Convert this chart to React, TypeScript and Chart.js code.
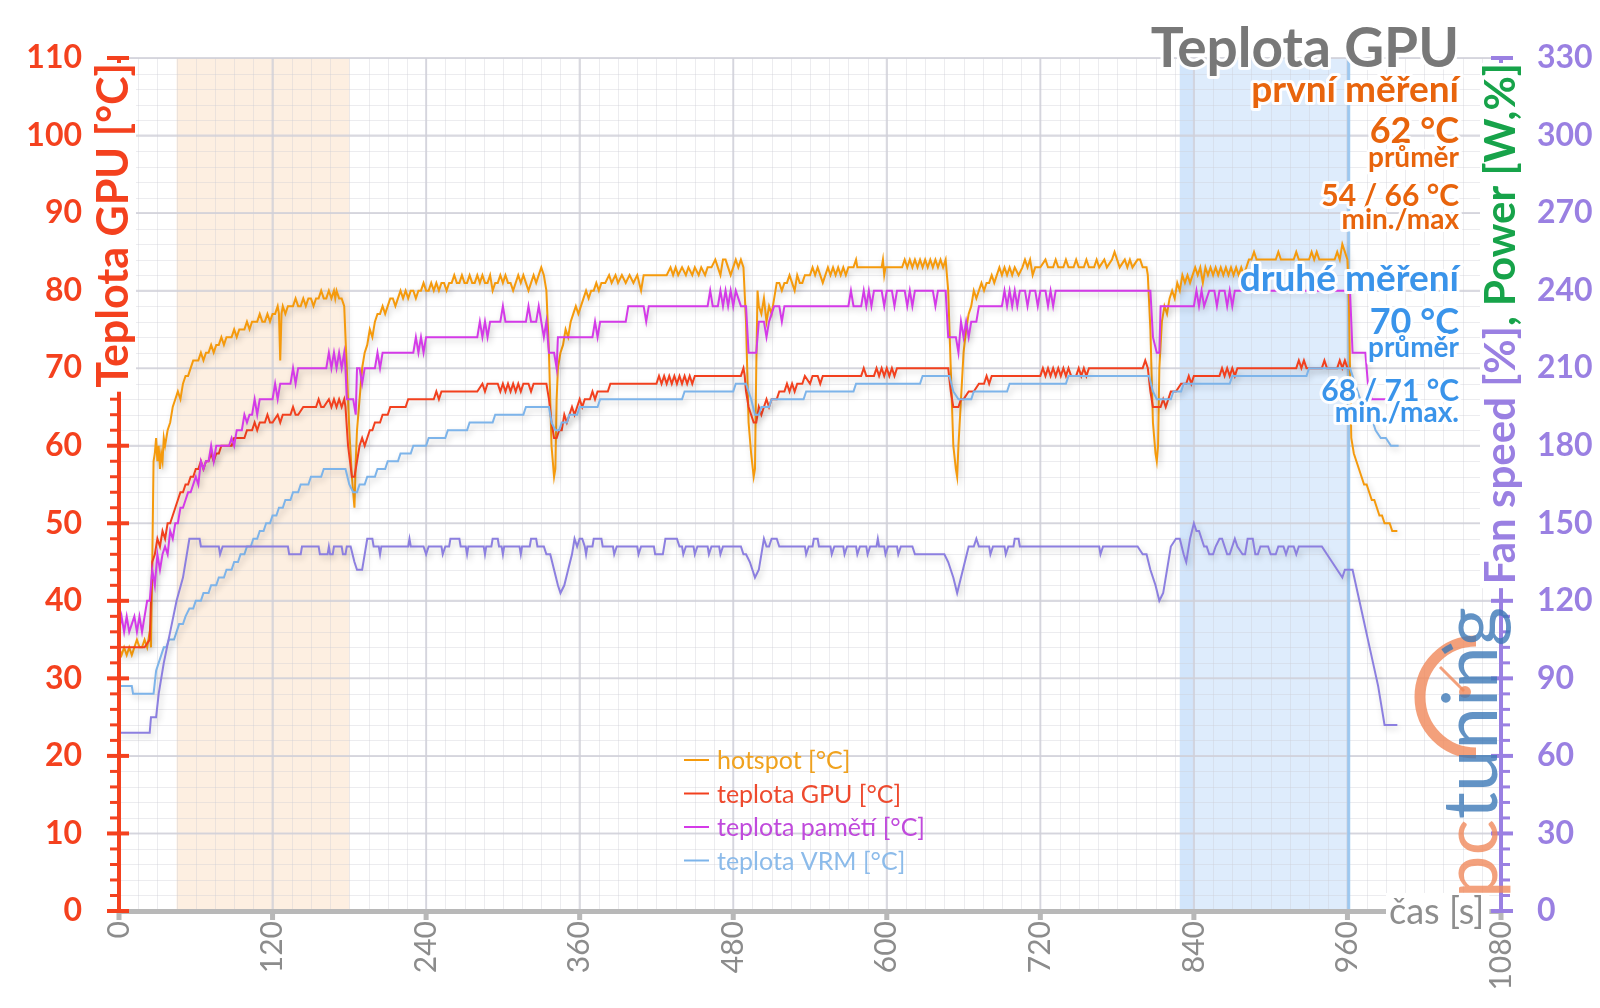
import React, { useEffect, useRef } from "react";
import { Chart, registerables } from "chart.js";

Chart.register(...registerables);

// ---------- data ----------
const xTickStep = 120;
const xMax = 1080;
const yMax = 110;
const y1Max = 330;
const firstRun = [45, 180];
const secondRun = [829, 961];

const hotspot: number[][] = [
  [0,34],[2,33],[4,34],[6,33],[8,34],[10,33],[12,34],[14,35],[16,34],[18,34],[20,35],[22,34],[24,36],[25,34],[26,45],[27,58],[28,59],[29,61],[30,58],[31,60],[32,57],[33,59],[34,58],[35,61],[36,60],[38,62],[40,63],[42,65],[44,66],[46,67],[48,66],[50,68],[52,69],[54,69],[56,70],[58,71],[60,71],
  [62,71],[64,72],[66,71],[68,72],[70,72],[72,73],[74,72],[76,73],[78,73],[80,74],[82,73],[84,74],[86,74],[88,74],[90,75],[92,74],[94,75],[96,75],[98,75],[100,76],[102,75],[104,76],[106,76],[108,76],[110,77],[112,76],[114,76],[116,77],[118,76],[120,77],[122,77],[124,78],[125,77],[126,71],[127,77],[128,78],[130,77],[132,78],[134,78],[136,78],[138,79],[140,78],[142,78],[144,79],[146,78],[148,79],[150,79],[152,78],[154,79],[156,79],[158,80],[160,79],[162,79],[164,80],[166,79],[168,80],[169,79],[170,80],[172,79],[174,79],[176,78],
  [178,70],[180,62],[182,56],[184,52],[185,58],[186,62],[188,66],[190,70],[192,72],[194,73],[196,75],[198,74],[200,76],[202,77],[204,77],[206,78],[208,77],[210,78],[212,79],[214,79],[216,78],[218,79],[220,80],[222,79],[224,80],[226,79],[228,80],[230,80],[232,79],[234,80],[236,80],[238,81],[240,80],[242,80],[244,81],[246,80],[248,81],[250,80],[252,81],[254,81],[256,80],[258,81],[260,81],[262,82],[264,81],[266,81],[268,82],[270,81],[272,81],[274,82],[276,81],[278,81],[280,82],[282,81],[284,82],[286,81],[288,81],[290,82],[292,80],[294,81],[296,81],[298,82],[300,81],[302,82],[304,81],[306,81],[308,80],[310,81],[312,82],[314,81],[316,82],[318,81],[320,80],[322,81],[324,82],[326,81],[328,82],[330,83],[332,82],[334,80],
  [336,72],[338,60],[340,56],[341,57],[342,66],[343,70],[345,72],[347,73],[349,75],[351,74],[353,76],[355,77],[357,78],[359,77],[361,78],[363,79],[365,80],[367,79],[369,80],[371,80],[373,81],[375,80],[377,81],[380,81],[383,82],[385,81],[388,82],[390,81],[393,82],[396,81],[399,82],[402,81],[405,82],[408,80],[410,82],[413,82],[416,82],[419,82],[422,82],[425,82],[428,82],[431,83],[433,82],[435,83],[437,82],[440,83],[443,82],[445,83],[448,82],[450,83],[453,82],[455,83],[458,82],[460,83],[463,83],[466,84],[468,83],[470,82],[472,84],[474,84],[476,83],[478,82],[480,83],[482,84],[484,83],[486,84],[488,83],
  [490,76],[492,63],[494,59],[496,56],[497,57],[498,70],[499,80],[500,78],[502,77],[504,79],[506,76],[508,78],[510,77],[512,79],[514,81],[516,81],[518,80],[520,81],[522,81],[524,82],[526,81],[528,80],[530,82],[532,81],[534,81],[536,82],[538,82],[540,82],[542,83],[544,82],[546,83],[548,82],[550,81],[552,82],[554,83],[556,82],[558,83],[560,82],[562,83],[564,82],[566,83],[568,82],[570,83],[574,83],[576,84],[577,83],[596,83],[597,84],[598,82],[599,83],[612,83],[614,84],[616,83],[618,84],[620,83],[622,84],[624,83],[626,84],[628,83],[630,84],[632,83],[634,84],[636,83],[638,84],[640,83],[642,84],[644,83],[646,84],[647,82],
  [648,80],[650,70],[652,60],[654,57],[655,56],[656,60],[658,66],[660,72],[662,75],[664,77],[666,78],[668,80],[670,79],[672,80],[674,81],[676,80],[678,81],[680,81],[682,82],[684,81],[686,82],[688,83],[690,82],[692,83],[694,82],[696,83],[698,82],[700,83],[703,82],[706,83],[708,84],[710,83],[712,84],[714,82],[716,83],[720,83],[724,84],[726,83],[730,83],[732,84],[734,83],[738,83],[740,84],[742,83],[746,83],[748,84],[750,83],[754,83],[756,84],[758,83],[762,83],[764,84],[766,83],[770,84],[772,83],[776,84],[778,85],[780,84],[782,83],[786,84],[788,83],[790,84],[792,83],[796,84],[798,84],[800,83],[803,83],[804,82],
  [806,75],[808,63],[810,59],[811,58],[812,60],[813,70],[815,76],[817,78],[819,77],[821,79],[823,80],[825,79],[827,81],[829,80],[831,82],[833,81],[835,82],[837,81],[839,82],[841,83],[843,82],[845,83],[847,81],[849,83],[851,82],[853,83],[855,82],[857,83],[859,82],[861,83],[863,82],[865,83],[867,82],[869,83],[871,82],[873,83],[875,82],[877,83],[879,82],[881,83],[883,84],[885,84],[887,85],[889,84],[904,84],[906,85],[908,84],[918,84],[920,85],[922,84],[930,84],[932,85],[934,84],[936,85],[938,84],[950,84],[952,85],[954,84],[956,86],[958,85],[960,84],
  [961,80],[962,70],[963,61],[965,59],[967,58],[969,57],[971,56],[973,55],[975,55],[977,54],[979,53],[981,53],[983,52],[985,51],[987,51],[989,50],[991,50],[993,50],[995,49],[997,49],[999,49]
];

const gpuTemp: number[][] = [
  [0,34],[10,34],[20,34],[24,35],[26,45],[28,46],[30,48],[32,47],[34,49],[36,48],[38,50],[40,50],[42,51],[44,52],[46,53],[48,54],[50,54],[52,55],[54,55],[56,56],[58,56],[60,57],[62,57],[64,58],[66,57],[68,58],[70,58],[72,59],[74,58],[76,59],[78,59],[80,60],[84,60],[88,60],[90,61],[94,61],[98,61],[100,62],[104,62],[106,63],[108,62],[110,63],[114,63],[116,64],[118,63],[120,63],[124,64],[126,63],[128,64],[134,64],[136,65],[138,64],[140,64],[144,65],[150,65],[154,65],[156,66],[158,65],[160,65],[164,66],[166,65],[168,66],[170,65],[172,66],[174,65],[176,66],[177,65],
  [179,60],[182,56],[184,56],[186,58],[188,60],[190,61],[192,60],[194,61],[196,62],[198,62],[200,63],[204,63],[206,64],[210,64],[212,65],[224,65],[226,66],[246,66],[248,67],[250,66],[252,67],[280,67],[284,68],[286,67],[288,68],[296,68],[298,67],[300,68],[302,67],[304,68],[306,67],[308,68],[310,67],[312,68],[314,67],[316,68],[320,68],[322,67],[324,68],[334,68],
  [336,66],[338,63],[340,61],[342,61],[344,62],[346,62],[348,64],[350,63],[352,64],[354,65],[356,64],[358,65],[360,66],[362,65],[364,66],[368,66],[370,67],[372,66],[374,67],[382,67],[384,68],[420,68],[422,69],[424,68],[426,69],[428,68],[430,69],[432,68],[434,69],[436,68],[438,69],[440,68],[442,69],[444,68],[446,69],[448,68],[450,69],[486,69],[488,70],[489,69],
  [490,67],[492,65],[494,64],[496,63],[498,63],[500,65],[502,64],[504,65],[506,66],[508,65],[510,66],[514,66],[516,67],[520,67],[522,68],[524,67],[526,68],[528,67],[530,68],[534,68],[536,69],[540,68],[542,69],[546,69],[548,68],[550,69],[580,69],[582,70],[584,69],[590,69],[592,70],[594,69],[596,70],[598,69],[600,70],[602,69],[604,70],[606,69],[608,70],[648,70],
  [650,67],[652,65],[654,65],[656,65],[658,66],[660,66],[664,67],[668,67],[672,68],[676,68],[678,69],[680,68],[682,69],[690,69],[720,69],[722,70],[724,69],[726,70],[728,69],[730,70],[732,69],[734,70],[736,69],[738,70],[740,69],[742,70],[744,69],[748,69],[750,70],[752,69],[754,70],[756,69],[758,70],[800,70],[802,71],[804,70],
  [806,67],[808,65],[810,65],[812,65],[814,65],[816,66],[818,65],[820,66],[822,67],[826,67],[830,68],[834,68],[836,69],[838,68],[840,69],[860,69],[862,70],[864,69],[866,70],[868,69],[870,70],[872,69],[874,70],[920,70],[922,71],[924,70],[926,71],[928,70],[940,70],[942,71],[944,70],[952,70],[954,71],[956,70],[958,71],[960,70],[962,70]
];

const memTemp: number[][] = [
  [0,36],[2,38],[4,36],[6,38],[8,36],[10,37],[12,38],[14,36],[16,38],[18,36],[20,38],[22,40],[24,40],[26,44],[28,42],[30,46],[32,44],[34,46],[36,47],[38,46],[40,49],[42,48],[44,50],[46,50],[48,52],[50,52],[52,53],[54,54],[56,54],[58,55],[60,56],[62,55],[64,58],[66,57],[68,58],[70,58],[72,60],[74,58],[76,60],[78,60],[82,60],[86,60],[88,61],[90,60],[92,62],[96,62],[98,64],[100,63],[102,64],[104,64],[106,66],[108,64],[110,66],[118,66],[120,66],[122,68],[124,66],[126,68],[134,68],[136,70],[138,68],[140,70],[162,70],[164,72],[166,70],[168,72],[170,70],[172,72],[174,70],[176,72],[177,70],
  [178,66],[183,66],[185,64],[186,70],[188,70],[190,68],[192,70],[200,70],[202,72],[204,70],[206,72],[230,72],[232,74],[234,72],[236,74],[238,72],[240,74],[280,74],[282,76],[284,74],[286,76],[288,74],[290,76],[298,76],[300,78],[302,76],[318,76],[320,78],[322,76],[326,76],[328,78],[330,76],[332,74],[334,76],
  [336,72],[340,72],[342,70],[343,74],[346,74],[370,74],[372,76],[374,74],[376,76],[396,76],[398,78],[410,78],[412,76],[414,78],[460,78],[462,80],[464,78],[468,78],[470,80],[472,78],[474,80],[476,78],[478,80],[480,78],[482,80],[486,78],[490,78],
  [492,72],[498,72],[500,76],[504,76],[506,74],[508,76],[510,77],[512,78],[516,78],[518,76],[520,78],[570,78],[572,80],[574,78],[580,78],[582,80],[584,78],[586,80],[588,78],[590,80],[596,80],[598,78],[600,80],[604,80],[606,78],[608,80],[614,80],[616,78],[618,80],[620,78],[622,80],[636,80],[638,78],[640,80],[646,80],
  [648,74],[654,74],[656,72],[658,76],[660,74],[662,76],[664,74],[666,76],[670,76],[672,78],[690,78],[692,80],[694,78],[696,80],[698,78],[700,80],[702,78],[704,80],[708,80],[710,78],[712,80],[716,80],[718,78],[720,80],[724,80],[726,78],[728,80],[730,78],[732,80],[806,80],
  [808,74],[811,72],[813,72],[814,78],[840,78],[842,80],[844,78],[846,80],[848,78],[852,80],[856,80],[858,78],[860,80],[864,80],[866,78],[868,80],[870,78],[872,80],[962,80],[963,76],[964,72],[974,72],[976,68],[979,66],[990,66]
];

const vrmTemp: number[][] = [
  [0,29],[10,29],[11,28],[27,28],[29,31],[31,32],[33,33],[35,34],[37,34],[39,35],[43,35],[45,36],[47,37],[50,37],[52,38],[55,39],[58,39],[60,40],[64,40],[66,41],[70,41],[72,42],[76,42],[78,43],[82,43],[84,44],[88,44],[90,45],[93,45],[95,46],[98,46],[100,47],[103,47],[105,48],[108,48],[110,49],[113,49],[115,50],[118,50],[120,51],[123,51],[125,52],[128,52],[130,53],[134,53],[136,54],[140,54],[142,55],[148,55],[150,56],[158,56],[160,57],[177,57],
  [180,55],[183,54],[186,54],[188,55],[192,55],[194,56],[200,56],[202,57],[208,57],[210,58],[218,58],[220,59],[228,59],[230,60],[240,60],[242,61],[255,61],[257,62],[272,62],[274,63],[292,63],[294,64],[316,64],[318,65],[336,65],
  [338,63],[341,62],[344,62],[346,63],[350,63],[352,64],[358,64],[360,65],[374,65],[376,66],[440,66],[442,67],[480,67],[482,68],[490,68],
  [494,66],[497,64],[500,64],[502,65],[508,65],[510,66],[535,66],[537,67],[574,67],[576,68],[626,68],[628,69],[649,69],
  [652,67],[656,66],[666,66],[668,67],[694,67],[696,68],[740,68],[742,69],[805,69],
  [808,67],[811,66],[822,66],[824,67],[830,67],[832,68],[868,68],[870,69],[928,69],[930,70],[962,70],
  [964,69],[966,68],[970,66],[974,65],[978,64],[982,62],[986,61],[990,61],[994,60],[1000,60]
];

const fanSpeed: number[][] = [
  [0,23],[24,23],[25,25],[29,25],[31,28],[35,32],[40,36],[45,40],[50,43],[53,46],[55,48],[60,48],[63,48],[64,47],[78,47],[79,46],[81,47],[132,47],[133,46],[142,46],[143,47],[156,47],[157,46],[163,46],[164,47],[165,46],[167,46],[168,47],[174,47],[175,46],[177,46],[178,47],[181,47],[184,45],[186,44],[190,44],[192,46],[194,48],[198,48],[199,47],[203,47],[204,46],[205,47],
  [226,47],[227,48],[228,47],[238,47],[240,46],[242,47],[252,47],[253,46],[255,47],[258,47],[259,48],[266,48],[267,47],[271,47],[272,46],[273,47],[285,47],[286,46],[287,47],[291,47],[292,48],[296,48],[297,47],[299,47],[300,46],[301,47],[313,47],[314,46],[315,47],[321,47],[322,48],[326,48],[327,47],[332,47],[334,46],[337,46],[340,44],[343,42],[345,41],[348,42],[351,44],[354,46],[356,48],[358,47],[360,48],[362,48],[364,47],[365,46],[366,47],[370,47],[371,48],[377,48],[378,47],[386,47],[387,46],[389,47],[405,47],[406,46],[408,47],[418,47],[419,46],[425,46],[427,48],[436,48],[438,47],[440,47],[441,46],[443,47],[449,47],[450,46],[452,47],[460,47],[461,46],[463,47],[469,47],[470,46],[472,47],[486,47],[488,46],[490,46],[493,45],[497,43],[500,44],[502,46],[504,48],[506,47],[508,47],[510,48],[514,48],[516,47],
  [536,47],[537,46],[539,47],[542,47],[543,48],[546,48],[547,47],[556,47],[557,46],[559,47],[566,47],[567,46],[569,47],[576,47],[577,46],[579,47],[584,47],[585,46],[587,47],[592,47],[593,48],[594,47],[598,47],[599,46],[601,47],[608,47],[609,46],[611,47],[620,47],[622,46],[645,46],[648,45],[652,43],[655,41],[658,43],[661,45],[664,47],[668,47],[670,48],[672,47],[680,47],[681,46],[683,47],[692,47],[693,46],[695,47],[699,47],[700,48],[703,48],[704,47],[766,47],[767,46],[769,47],[796,47],[800,46],[803,46],[806,44],[810,42],[813,40],[816,41],[819,44],[822,47],[826,48],[829,48],[832,46],[834,45],[837,48],[840,50],[842,49],[844,49],[846,48],[848,47],[850,47],[852,46],[855,46],[857,47],[860,48],[862,48],[864,47],[866,46],[868,46],[870,47],[872,48],[874,47],[878,46],[880,46],[882,48],[886,48],[888,46],[890,46],[892,47],[898,47],[900,46],[904,46],[906,47],[910,47],[912,46],[914,47],[918,47],[920,46],[922,47],[940,47],[944,46],[948,45],[952,44],[956,43],[958,44],[964,44],[968,41],[972,38],[976,35],[980,32],[984,29],[987,26],[989,24],[999,24]
];

const legendLabels = ["hotspot [°C]", "teplota GPU [°C]", "teplota pamětí [°C]", "teplota VRM [°C]"];
const chartTitle = "Teplota GPU";
const firstLines = ["první měření", "62 °C", "průměr", "54 / 66 °C", "min./max"];
const secondLines = ["druhé měření", "70 °C", "průměr", "68 / 71 °C", "min./max."];
const leftTitle = "Teplota GPU [°C]";
const rightTitleA = "Fan speed [%]";
const rightTitleB = ", Power [W,%]";
const xTitle = "čas [s]";

// ---------- styles ----------
const FONT = "Lato, 'Open Sans', sans-serif";
const RED = "#f4411e";
const PURPLE = "#9a80e2";
const GREEN = "#17a34a";
const GREY = "#8c8c8c";
const ORANGE_TXT = "#e8640c";
const BLUE_TXT = "#3a94ea";
const C_HOT = "#f59a0c";
const C_GPU = "#f2401e";
const C_MEM = "#d43ae8";
const C_VRM = "#7db4ea";
const C_FAN = "#8c7fe0";
const legendTextColors = ["#f0a21e", "#ee4a2e", "#c04adc", "#8cbbea"];
const legendLineColors = [C_HOT, C_GPU, C_MEM, C_VRM];

const toXY = (arr: number[][]) => arr.map(([x, y]) => ({ x, y }));

const haloText = (ctx: CanvasRenderingContext2D, text: string, x: number, y: number, color: string, halo = 6) => {
  ctx.lineJoin = "round";
  ctx.strokeStyle = "rgba(255,255,255,0.95)";
  ctx.lineWidth = halo;
  ctx.strokeText(text, x, y);
  ctx.fillStyle = color;
  ctx.fillText(text, x, y);
};

const decorPlugin = {
  id: "decor",
  beforeDraw(chart: any) {
    const { ctx, chartArea, scales } = chart;
    const { left, right, top, bottom } = chartArea;
    const x = scales.x, y = scales.y;
    ctx.save();
    ctx.fillStyle = "#ffffff";
    ctx.fillRect(0, 0, chart.width, chart.height);
    const a0 = x.getPixelForValue(firstRun[0]), a1 = x.getPixelForValue(firstRun[1]);
    ctx.fillStyle = "rgba(252,226,200,0.55)";
    ctx.fillRect(a0, top, a1 - a0, bottom - top);
    const b0 = x.getPixelForValue(secondRun[0]), b1 = x.getPixelForValue(secondRun[1]);
    ctx.fillStyle = "rgba(200,224,250,0.6)";
    ctx.fillRect(b0, top, b1 - b0, bottom - top);
    ctx.fillStyle = "rgba(190,218,248,0.35)";
    ctx.fillRect(b0, top, 14, bottom - top);
    // minor grid
    ctx.strokeStyle = "rgba(205,205,212,0.38)";
    ctx.lineWidth = 1;
    for (let t = 0; t <= xMax; t += 15) {
      const px = Math.round(x.getPixelForValue(t)) + 0.5;
      ctx.beginPath(); ctx.moveTo(px, top); ctx.lineTo(px, bottom); ctx.stroke();
    }
    for (let v = 0; v <= yMax; v += 2) {
      const py = Math.round(y.getPixelForValue(v)) + 0.5;
      ctx.beginPath(); ctx.moveTo(left, py); ctx.lineTo(right, py); ctx.stroke();
    }
    // major grid
    ctx.strokeStyle = "rgba(208,208,216,0.8)";
    ctx.lineWidth = 2;
    for (let t = 0; t <= xMax; t += xTickStep) {
      const px = x.getPixelForValue(t);
      ctx.beginPath(); ctx.moveTo(px, top); ctx.lineTo(px, bottom); ctx.stroke();
    }
    for (let v = 0; v <= yMax; v += 10) {
      const py = y.getPixelForValue(v);
      ctx.beginPath(); ctx.moveTo(left, py); ctx.lineTo(right, py); ctx.stroke();
    }
    ctx.strokeStyle = "rgba(150,196,240,0.9)";
    ctx.lineWidth = 3;
    ctx.beginPath(); ctx.moveTo(b1, top); ctx.lineTo(b1, bottom); ctx.stroke();
    ctx.restore();
  },
  beforeDatasetsDraw(chart: any) {
    const ctx = chart.ctx;
    ctx.save();
    ctx.shadowColor = "rgba(0,0,0,0.2)";
    ctx.shadowBlur = 6;
    ctx.shadowOffsetX = 2;
    ctx.shadowOffsetY = 3;
  },
  afterDatasetsDraw(chart: any) {
    chart.ctx.restore();
  },
  afterDraw(chart: any) {
    const { ctx, chartArea, scales } = chart;
    const { left, right, top, bottom } = chartArea;
    const y = scales.y;
    ctx.save();

    // x axis
    ctx.fillStyle = "#b8b8b8";
    ctx.fillRect(left, bottom - 2, right - left, 5);
    for (let t = 0; t <= xMax; t += xTickStep) {
      const px = scales.x.getPixelForValue(t);
      ctx.fillRect(px - 2.5, bottom, 5, 9);
    }
    ctx.font = `36px ${FONT}`;
    const xtw = ctx.measureText(xTitle).width;
    ctx.fillStyle = "#ffffff";
    ctx.fillRect(1386, bottom - 18, xtw + 8, 36);
    ctx.fillStyle = "#8e8e8e";
    ctx.textAlign = "left";
    ctx.textBaseline = "middle";
    ctx.fillText(xTitle, 1389, bottom + 1);

    // left axis
    ctx.strokeStyle = RED;
    ctx.lineWidth = 4;
    ctx.beginPath(); ctx.moveTo(left, top - 2); ctx.lineTo(left, bottom + 2); ctx.stroke();
    for (let v = 0; v <= yMax; v += 2) {
      const py = y.getPixelForValue(v);
      const major = v % 10 === 0;
      ctx.lineWidth = major ? 4 : 3;
      ctx.beginPath();
      ctx.moveTo(major ? left - 12 : left - 9, py);
      ctx.lineTo(major ? left + 10 : left, py);
      ctx.stroke();
    }
    // right axis
    ctx.strokeStyle = PURPLE;
    ctx.lineWidth = 4;
    ctx.beginPath(); ctx.moveTo(right, top - 2); ctx.lineTo(right, bottom + 2); ctx.stroke();
    for (let v = 0; v <= y1Max; v += 6) {
      const py = scales.y1.getPixelForValue(v);
      const major = v % 30 === 0;
      ctx.lineWidth = major ? 4 : 3;
      ctx.beginPath();
      ctx.moveTo(major ? right - 10 : right, py);
      ctx.lineTo(major ? right + 12 : right + 9, py);
      ctx.stroke();
    }

    // left title
    ctx.font = `bold 43px ${FONT}`;
    const ltw = ctx.measureText(leftTitle).width;
    ctx.fillStyle = "#ffffff";
    ctx.fillRect(94, top + 5, 42, ltw + 4);
    ctx.save();
    ctx.translate(114, top + 5);
    ctx.rotate(-Math.PI / 2);
    ctx.textAlign = "right";
    ctx.textBaseline = "middle";
    ctx.fillStyle = RED;
    ctx.fillText(leftTitle, 0, 0);
    ctx.restore();

    // right title
    ctx.font = `bold 42px ${FONT}`;
    const w1 = ctx.measureText(rightTitleA).width;
    const w2 = ctx.measureText(rightTitleB).width;
    ctx.fillStyle = "#ffffff";
    ctx.fillRect(right - 21, top + 5, 42, w1 + w2 + 4);
    ctx.save();
    ctx.translate(right, top + 5 + w1 + w2);
    ctx.rotate(-Math.PI / 2);
    ctx.textAlign = "left";
    ctx.textBaseline = "middle";
    ctx.fillStyle = PURPLE;
    ctx.fillText(rightTitleA, 0, 0);
    ctx.fillStyle = GREEN;
    ctx.fillText(rightTitleB, w1, 0);
    ctx.restore();

    // legend
    ctx.textAlign = "left";
    ctx.textBaseline = "middle";
    ctx.font = `25px ${FONT}`;
    legendLabels.forEach((lab, i) => {
      const cy = 760 + i * 33.5;
      ctx.strokeStyle = legendLineColors[i];
      ctx.lineWidth = 2;
      ctx.beginPath(); ctx.moveTo(684, cy); ctx.lineTo(709, cy); ctx.stroke();
      ctx.fillStyle = legendTextColors[i];
      ctx.fillText(lab, 717, cy + 1);
    });

    // annotations (right aligned)
    const ax = 1459;
    ctx.textAlign = "right";
    ctx.textBaseline = "alphabetic";
    ctx.font = `bold 55px ${FONT}`;
    haloText(ctx, chartTitle, ax, 67, "#787878", 6);
    const sizes = [37, 36, 28, 30, 28];
    const firstBase = [102, 143, 167, 206, 229];
    const secondBase = [291, 334, 357, 401, 422];
    firstLines.forEach((t, i) => {
      ctx.font = `bold ${sizes[i]}px ${FONT}`;
      haloText(ctx, t, ax, firstBase[i], ORANGE_TXT, 6);
    });
    secondLines.forEach((t, i) => {
      ctx.font = `bold ${sizes[i]}px ${FONT}`;
      haloText(ctx, t, ax, secondBase[i], BLUE_TXT, 6);
    });

    // logo
    ctx.globalAlpha = 0.8;
    ctx.strokeStyle = "#f0885a";
    ctx.lineWidth = 11;
    ctx.beginPath();
    ctx.arc(1476, 697, 56, Math.PI * 0.5, Math.PI * 1.5);
    ctx.stroke();
    ctx.strokeStyle = "#3c78b6";
    ctx.lineWidth = 6;
    ctx.beginPath();
    ctx.arc(1476, 697, 56, Math.PI * 1.3, Math.PI * 1.36);
    ctx.stroke();
    ctx.strokeStyle = "#f0885a";
    ctx.lineWidth = 3;
    ctx.beginPath(); ctx.moveTo(1440, 667); ctx.lineTo(1464, 691); ctx.stroke();
    ctx.fillStyle = "#f0885a";
    ctx.beginPath(); ctx.arc(1465, 692, 6, 0, Math.PI * 2); ctx.fill();
    ctx.font = `100px ${FONT}`;
    const pw = ctx.measureText("pc").width;
    const tw = ctx.measureText("tuning").width;
    const scale = 291 / (pw + tw);
    ctx.save();
    ctx.translate(1472, 898);
    ctx.rotate(-Math.PI / 2);
    ctx.font = `${Math.round(100 * scale)}px ${FONT}`;
    ctx.textAlign = "left";
    ctx.textBaseline = "middle";
    ctx.fillStyle = "#f08a5c";
    ctx.fillText("pc", 0, 0);
    ctx.fillStyle = "#3c78b6";
    ctx.fillText("tuning", pw * scale, 0);
    ctx.restore();
    ctx.globalAlpha = 1;
    ctx.restore();
  },
};

export default function App() {
  const ref = useRef<HTMLCanvasElement | null>(null);
  useEffect(() => {
    if (!ref.current) return;
    const line = (label: string, data: number[][], color: string) => ({
      label,
      data: toXY(data),
      borderColor: color,
      backgroundColor: color,
      borderWidth: 2,
      pointRadius: 0,
      tension: 0,
      fill: false,
      yAxisID: "y",
    });
    const chart = new Chart(ref.current, {
      type: "line",
      data: {
        datasets: [
          line("fan", fanSpeed, C_FAN),
          line(legendLabels[3], vrmTemp, C_VRM),
          line(legendLabels[2], memTemp, C_MEM),
          line(legendLabels[1], gpuTemp, C_GPU),
          line(legendLabels[0], hotspot, C_HOT),
        ],
      },
      options: {
        animation: false,
        responsive: true,
        maintainAspectRatio: false,
        layout: { padding: { top: 58, left: 0, right: 0, bottom: 0 } },
        plugins: { legend: { display: false }, tooltip: { enabled: false } },
        scales: {
          x: {
            type: "linear",
            min: 0,
            max: xMax,
            ticks: {
              stepSize: xTickStep,
              autoSkip: false,
              maxRotation: 90,
              minRotation: 90,
              color: GREY,
              font: { family: FONT, size: 30 },
              padding: 10,
              callback: (v: any) => String(v),
            },
            grid: { display: false, drawTicks: false },
            border: { display: false },
            afterFit: (s: any) => { s.height = 97; },
          },
          y: {
            position: "left",
            min: 0,
            max: yMax,
            ticks: { stepSize: 10, color: RED, font: { family: FONT, size: 32, weight: "bold" }, padding: 37 },
            grid: { display: false, drawTicks: false },
            border: { display: false },
            afterFit: (s: any) => { s.width = 119; },
          },
          y1: {
            position: "right",
            min: 0,
            max: y1Max,
            ticks: { stepSize: 30, color: PURPLE, font: { family: FONT, size: 32, weight: "bold" }, padding: 36 },
            grid: { display: false, drawTicks: false },
            border: { display: false },
            afterFit: (s: any) => { s.width = 99; },
          },
        },
      },
      plugins: [decorPlugin],
    } as any);
    return () => chart.destroy();
  }, []);
  return (
    <div style={{ position: "absolute", left: 0, top: 0, width: 1600, height: 1008, background: "#fff" }}>
      <canvas ref={ref} width={1600} height={1008} />
    </div>
  );
}
